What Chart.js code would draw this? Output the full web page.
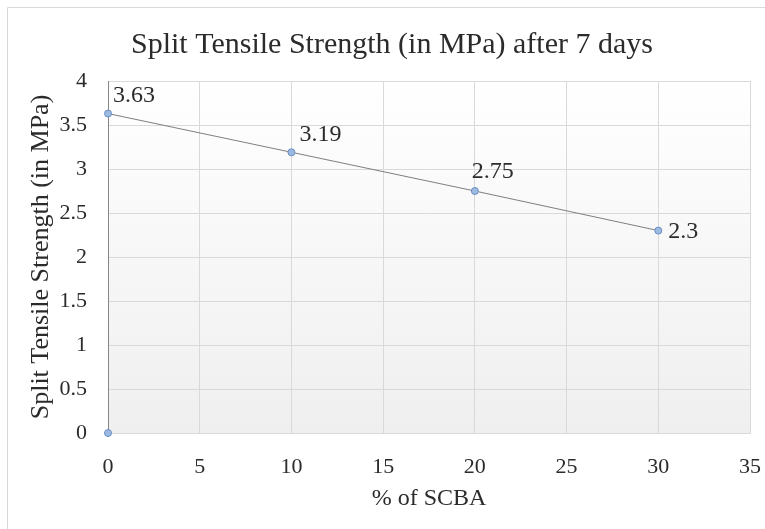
<!DOCTYPE html>
<html>
<head>
<meta charset="utf-8">
<script src="https://cdn.jsdelivr.net/npm/chart.js@4"></script>
<style>
  html, body { margin: 0; padding: 0; background: #ffffff; }
  #wrap { position: relative; width: 765px; height: 529px; }
</style>
</head>
<body>
<div id="wrap"><canvas id="strengthChart"></canvas></div>
<script>
// chart data
const scbaPercent = [0, 10, 20, 30];
const tensileStrength = [3.63, 3.19, 2.75, 2.3];
const originPoint = [{ x: 0, y: 0 }];
const xTicks = [0, 5, 10, 15, 20, 25, 30, 35];
const yTicks = [0, 0.5, 1, 1.5, 2, 2.5, 3, 3.5, 4];

const serif = "'Liberation Serif', 'Times New Roman', serif";
const textColor = '#2b2b2b';

// where each value label sits relative to its point
const labelOffsets = [
    { dx: 5, dy: -18 },
    { dx: 8, dy: -18 },
    { dx: -3, dy: -19 },
    { dx: 10, dy: 1 },
];

// outer frame, plot gradient and the title
const backdrop = {
    id: 'backdrop',
    beforeDraw(chart) {
        const { ctx, chartArea } = chart;
        ctx.save();
        ctx.strokeStyle = '#d9d9d9';
        ctx.lineWidth = 1;
        ctx.beginPath();
        ctx.moveTo(7.5, 529);
        ctx.lineTo(7.5, 7.5);
        ctx.lineTo(765, 7.5);
        ctx.stroke();

        const grad = ctx.createLinearGradient(0, chartArea.top, 0, chartArea.bottom);
        grad.addColorStop(0, '#ffffff');
        grad.addColorStop(1, '#efefef');
        ctx.fillStyle = grad;
        ctx.fillRect(chartArea.left, chartArea.top, chartArea.width, chartArea.height);

        ctx.fillStyle = textColor;
        ctx.font = '30px ' + serif;
        ctx.textAlign = 'center';
        ctx.textBaseline = 'middle';
        ctx.fillText('Split Tensile Strength (in MPa) after 7 days', 392, 45);
        ctx.restore();
    },
};

// value labels next to the points
const valueLabels = {
    id: 'valueLabels',
    afterDatasetsDraw(chart) {
        const { ctx } = chart;
        const meta = chart.getDatasetMeta(0);
        ctx.save();
        ctx.fillStyle = textColor;
        ctx.font = '24px ' + serif;
        ctx.textAlign = 'left';
        ctx.textBaseline = 'middle';
        meta.data.forEach((pt, i) => {
            const off = labelOffsets[i];
            ctx.fillText(String(tensileStrength[i]), pt.x + off.dx, pt.y + off.dy);
        });
        ctx.restore();
    },
};

const ctx = document.getElementById('strengthChart').getContext('2d');
new Chart(ctx, {
    type: 'scatter',
    data: {
        datasets: [
            {
                label: 'Split Tensile Strength',
                data: scbaPercent.map((x, i) => ({ x: x, y: tensileStrength[i] })),
                showLine: true,
                borderColor: '#7f7f7f',
                borderWidth: 1,
                pointRadius: 3.5,
                pointBackgroundColor: '#9dbbe0',
                pointBorderColor: '#6a8fc4',
                pointBorderWidth: 1,
                clip: false,
            },
            {
                label: 'Origin',
                data: originPoint,
                showLine: false,
                pointRadius: 3.5,
                pointBackgroundColor: '#9dbbe0',
                pointBorderColor: '#6a8fc4',
                pointBorderWidth: 1,
                clip: false,
            },
        ],
    },
    options: {
        responsive: true,
        maintainAspectRatio: false,
        animation: false,
        layout: { padding: { top: 81, right: 15, bottom: 0, left: 0 } },
        plugins: {
            legend: { display: false },
            tooltip: { enabled: false },
            title: { display: false },
        },
        scales: {
            x: {
                type: 'linear',
                min: xTicks[0],
                max: xTicks[xTicks.length - 1],
                afterBuildTicks: (scale) => { scale.ticks = xTicks.map((v) => ({ value: v })); },
                afterFit: (scale) => {
                    scale.height = 96;
                    scale.paddingLeft = 0;
                    scale.paddingRight = 0;
                },
                grid: { color: '#d9d9d9', drawTicks: false },
                border: { color: '#d9d9d9' },
                ticks: {
                    padding: 21,
                    color: textColor,
                    font: { family: serif, size: 22 },
                    callback: (v) => String(v),
                },
                title: {
                    display: true,
                    text: '% of SCBA',
                    color: textColor,
                    font: { family: serif, size: 24 },
                    padding: { top: 0, bottom: 15.6 },
                },
            },
            y: {
                type: 'linear',
                min: yTicks[0],
                max: yTicks[yTicks.length - 1],
                afterBuildTicks: (scale) => { scale.ticks = yTicks.map((v) => ({ value: v })); },
                afterFit: (scale) => {
                    scale.width = 108;
                    scale.paddingTop = 0;
                    scale.paddingBottom = 0;
                },
                grid: { color: '#d9d9d9', drawTicks: false },
                border: { color: '#868686' },
                ticks: {
                    padding: 21,
                    color: textColor,
                    font: { family: serif, size: 22 },
                    callback: (v) => String(v),
                },
                title: {
                    display: true,
                    text: 'Split Tensile Strength (in MPa)',
                    color: textColor,
                    font: { family: serif, size: 26 },
                    padding: { top: 26, bottom: 0 },
                },
            },
        },
    },
    plugins: [backdrop, valueLabels],
});
</script>
</body>
</html>
